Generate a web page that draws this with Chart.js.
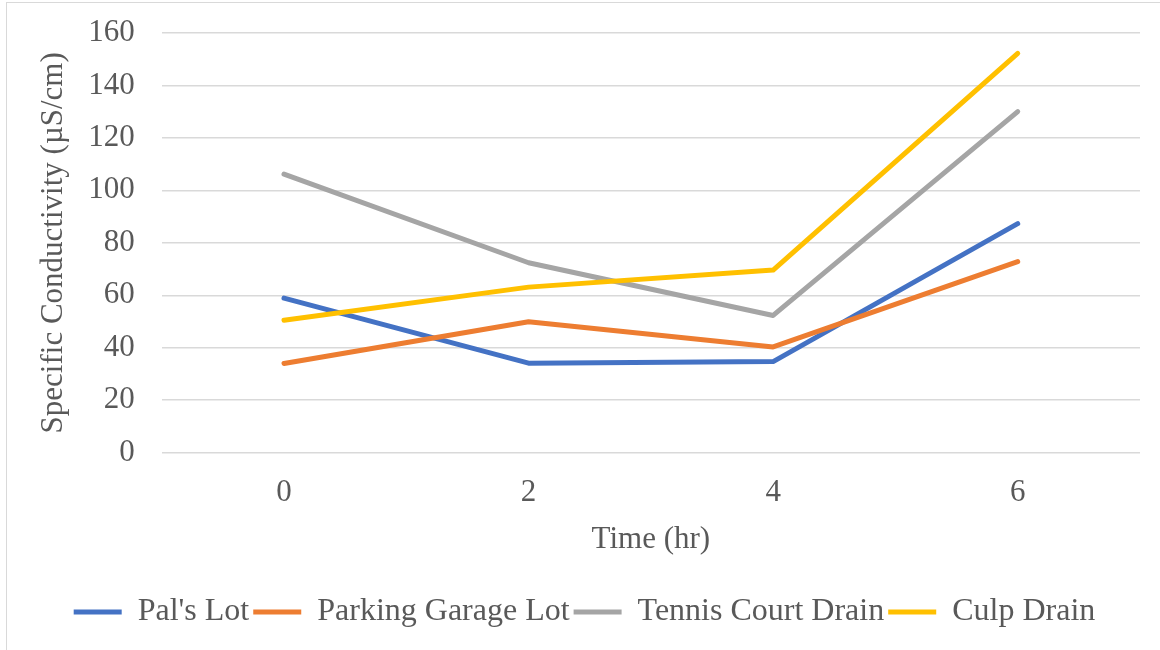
<!DOCTYPE html>
<html>
<head>
<meta charset="utf-8">
<script src="https://cdn.jsdelivr.net/npm/chart.js@4.4.0/dist/chart.umd.min.js"></script>
<style>
	html, body { margin: 0; padding: 0; background: #fff; }
	#wrap { position: relative; width: 1160px; height: 650px; overflow: hidden; }
	#frame { position: absolute; left: 6px; top: 2px; width: 1170px; height: 680px; border: 1.5px solid #d9d9d9; box-sizing: border-box; }
	#box { position: absolute; left: 0; top: 0; width: 1160px; height: 650px; }
</style>
</head>
<body>
<div id="wrap">
	<div id="frame"></div>
	<div id="box"><canvas id="chart"></canvas></div>
</div>
<script>
// --- Data ---
const hours = ['0', '2', '4', '6'];
const palsLot = [58.9, 34.1, 34.7, 87.3];
const parkingGarageLot = [34.0, 49.9, 40.3, 72.8];
const tennisCourtDrain = [106.2, 72.4, 52.3, 130.0];
const culpDrain = [50.5, 63.1, 69.6, 152.2];

const seriesNames = ["Pal's Lot", 'Parking Garage Lot', 'Tennis Court Drain', 'Culp Drain'];
const seriesValues = [palsLot, parkingGarageLot, tennisCourtDrain, culpDrain];
const seriesColors = ['#4472C4', '#ED7D31', '#A5A5A5', '#FFC000'];

const textColor = '#595959';
const gridColor = '#d9d9d9';
const fontFamily = '"Liberation Serif", "Times New Roman", serif';

Chart.defaults.font.family = fontFamily;
Chart.defaults.color = textColor;

// later series are drawn on top, like the original
const datasets = seriesNames.map((name, i) => ({
	label: name,
	data: seriesValues[i],
	borderColor: seriesColors[i],
	backgroundColor: seriesColors[i],
	borderWidth: 5,
	borderCapStyle: 'round',
	borderJoinStyle: 'round',
	pointRadius: 0,
	pointHoverRadius: 0,
	tension: 0,
	fill: false,
	order: seriesNames.length - i
}));

new Chart(document.getElementById('chart'), {
	type: 'line',
	data: { labels: hours, datasets: datasets },
	options: {
		responsive: true,
		maintainAspectRatio: false,
		animation: false,
		layout: { padding: { left: 29, right: 20, top: 33, bottom: 12 } },
		scales: {
			x: {
				offset: true,
				grid: { display: false, drawTicks: false },
				border: { display: false },
				ticks: { padding: 22, font: { size: 31 }, color: textColor },
				title: {
					display: true,
					text: 'Time (hr)',
					font: { size: 31 },
					color: textColor,
					padding: { top: -13, bottom: 34 }
				}
			},
			y: {
				min: 0,
				max: 160,
				grid: { color: gridColor, lineWidth: 1.5, drawTicks: false },
				border: { display: false },
				ticks: { stepSize: 20, padding: 27, font: { size: 31 }, color: textColor },
				title: {
					display: true,
					text: 'Specific Conductivity (µS/cm)',
					font: { size: 31 },
					color: textColor,
					padding: { top: 6, bottom: -11 }
				},
				// tick padding otherwise pushes the plot top down
				afterFit: (scale) => { scale.paddingTop = 0; }
			}
		},
		plugins: {
			legend: {
				position: 'bottom',
				labels: {
					usePointStyle: true,
					pointStyle: 'line',
					pointStyleWidth: 48,
					font: { size: 32 },
					color: textColor,
					padding: 4,
					sort: (a, b) => a.datasetIndex - b.datasetIndex
				}
			},
			tooltip: { enabled: false }
		}
	}
});
</script>
</body>
</html>
